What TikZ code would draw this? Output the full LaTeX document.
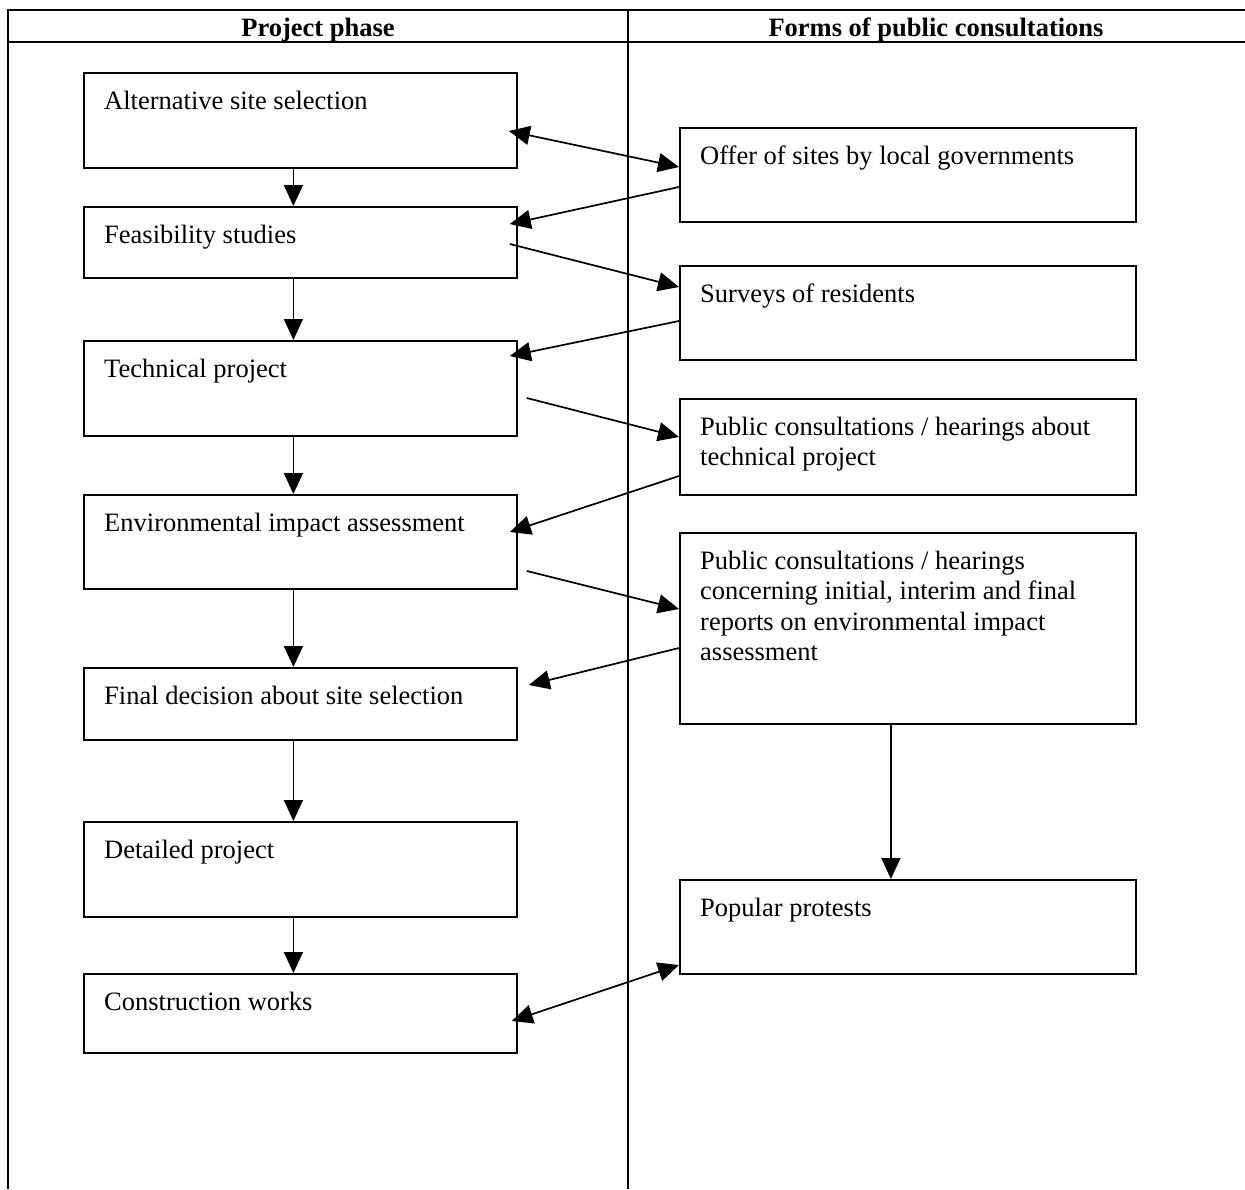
\documentclass[tikz,border=0pt]{standalone}
\usepackage{fontspec}
\setmainfont{Liberation Serif}
\usetikzlibrary{arrows.meta}

\begin{document}
\begin{tikzpicture}[x=1pt,y=-1pt,
  phase/.style={draw, line width=1.8pt, anchor=north west, inner sep=0pt, minimum width=433pt},
  form/.style={draw, line width=1.8pt, anchor=north west, inner sep=0pt, minimum width=456pt},
  boxtext/.style={anchor=base west, inner sep=0pt, align=left, font=\fontsize{26.5}{30.5}\selectfont},
  head/.style={anchor=base, inner sep=0pt, font=\fontsize{26.5}{30.5}\selectfont\bfseries},
  link/.style={line width=1.7pt, -{Triangle[length=21pt,width=19pt]}},
  both/.style={line width=1.7pt, {Triangle[length=21pt,width=19pt]}-{Triangle[length=21pt,width=19pt]}}]
  \useasboundingbox (0,0) rectangle (1245,1189);

  % --- THE TABLE ---
  \draw[line width=2.6pt] (8,10) -- (1245,10);
  \draw[line width=2pt] (8,42) -- (1245,42);
  \draw[line width=2pt] (8,9) -- (8,1189);
  \draw[line width=2pt] (628,10) -- (628,1189);
  \node[head] (hPhase) at (318,36) {Project phase};
  \node[head] (hForms) at (936,36) {Forms of public consultations};

  % --- LEFT COLUMN: PROJECT PHASES ---
  \node[phase, minimum height=95pt] (alt) at (83,72) {};
  \node[phase, minimum height=71pt] (feas) at (83,206) {};
  \node[phase, minimum height=95pt] (tech) at (83,340) {};
  \node[phase, minimum height=94pt] (eia) at (83,494) {};
  \node[phase, minimum height=72pt] (final) at (83,667) {};
  \node[phase, minimum height=95pt] (detail) at (83,821) {};
  \node[phase, minimum height=79pt] (constr) at (83,973) {};

  \node[boxtext] (altText) at ([xshift=21pt,yshift=-37pt]alt.north west) {Alternative site selection};
  \node[boxtext] (feasText) at ([xshift=21pt,yshift=-37pt]feas.north west) {Feasibility studies};
  \node[boxtext] (techText) at ([xshift=21pt,yshift=-37pt]tech.north west) {Technical project};
  \node[boxtext] (eiaText) at ([xshift=21pt,yshift=-37pt]eia.north west) {Environmental impact assessment};
  \node[boxtext] (finalText) at ([xshift=21pt,yshift=-37pt]final.north west) {Final decision about site selection};
  \node[boxtext] (detailText) at ([xshift=21pt,yshift=-37pt]detail.north west) {Detailed project};
  \node[boxtext] (constrText) at ([xshift=21pt,yshift=-37pt]constr.north west) {Construction works};

  % --- RIGHT COLUMN: FORMS OF CONSULTATION ---
  \node[form, minimum height=94pt] (offer) at (679,127) {};
  \node[form, minimum height=94pt] (surv) at (679,265) {};
  \node[form, minimum height=96pt] (pch) at (679,398) {};
  \node[form, minimum height=191pt] (pce) at (679,532) {};
  \node[form, minimum height=94pt] (protest) at (679,879) {};

  % base of a text with several lines is its last line
  \node[boxtext] (offerText) at ([xshift=21pt,yshift=-37pt]offer.north west) {Offer of sites by local governments};
  \node[boxtext] (survText) at ([xshift=21pt,yshift=-37pt]surv.north west) {Surveys of residents};
  \node[boxtext] (pchText) at ([xshift=21pt,yshift=-67.5pt]pch.north west) {Public consultations / hearings about\\technical project};
  \node[boxtext] (pceText) at ([xshift=21pt,yshift=-128.5pt]pce.north west) {Public consultations / hearings\\concerning initial, interim and final\\reports on environmental impact\\assessment};
  \node[boxtext] (protestText) at ([xshift=21pt,yshift=-37pt]protest.north west) {Popular protests};

  % --- PHASE SEQUENCE ---
  \draw[link] ([xshift=-7pt]alt.south) -- ([xshift=-7pt]feas.north);
  \draw[link] ([xshift=-7pt]feas.south) -- ([xshift=-7pt]tech.north);
  \draw[link] ([xshift=-7pt]tech.south) -- ([xshift=-7pt]eia.north);
  \draw[link] ([xshift=-7pt]eia.south) -- ([xshift=-7pt]final.north);
  \draw[link] ([xshift=-7pt]final.south) -- ([xshift=-7pt]detail.north);
  \draw[link] ([xshift=-7pt]detail.south) -- ([xshift=-7pt]constr.north);
  \draw[link] ([xshift=-17pt]pce.south) -- ([xshift=-17pt]protest.north);

  % --- CONSULTATIONS BETWEEN THE COLUMNS ---
  \draw[both] ([xshift=-9pt,yshift=-59pt]alt.north east) -- ([yshift=-40pt]offer.north west);
  \draw[link] ([yshift=-60pt]offer.north west) -- ([xshift=-8pt,yshift=-18pt]feas.north east);
  \draw[link] ([xshift=-8pt,yshift=-38pt]feas.north east) -- ([yshift=-22pt]surv.north west);
  \draw[link] ([yshift=-56pt]surv.north west) -- ([xshift=-8pt,yshift=-16pt]tech.north east);
  \draw[link] ([xshift=9pt,yshift=-58pt]tech.north east) -- ([yshift=-39pt]pch.north west);
  \draw[link] ([yshift=-78pt]pch.north west) -- ([xshift=-8pt,yshift=-38pt]eia.north east);
  \draw[link] ([xshift=9pt,yshift=-77pt]eia.north east) -- ([yshift=-77pt]pce.north west);
  \draw[link] ([yshift=-116pt]pce.north west) -- ([xshift=11pt,yshift=-18pt]final.north east);
  \draw[both] ([xshift=-6pt,yshift=-48pt]constr.north east) -- ([yshift=-86pt]protest.north west);
\end{tikzpicture}
\end{document}
